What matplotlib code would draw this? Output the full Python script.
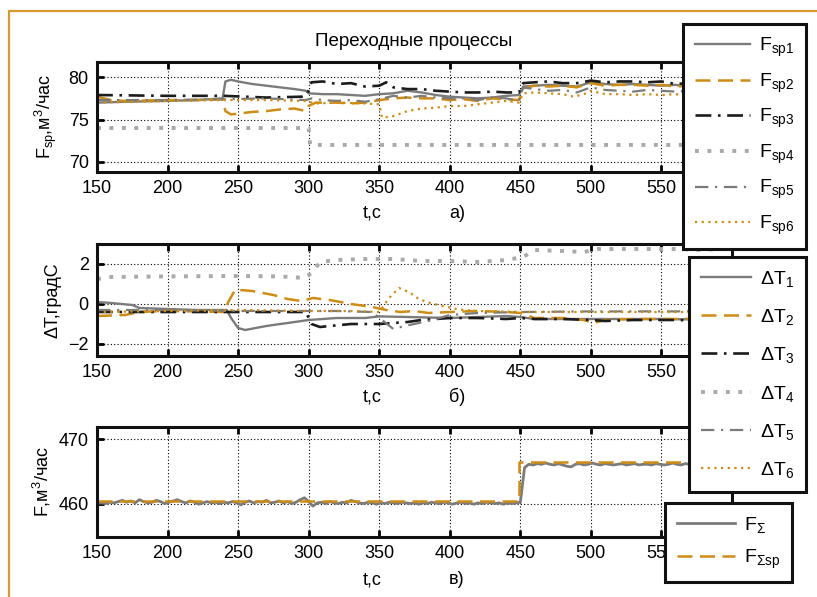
import numpy as np
import matplotlib

matplotlib.use("Agg")
import matplotlib.pyplot as plt
from matplotlib.patches import Rectangle

# --- Data: setpoints of the six flows, m3/h ---
T_SP1 = [150, 170, 200, 220, 239, 241, 245, 250, 260, 270, 280, 290, 298, 300, 310, 320, 330, 340,
         350, 360, 370, 380, 390, 400, 410, 420, 430, 440, 449, 452, 460, 470, 480, 490, 500, 510,
         520, 530, 540, 550, 560, 570, 580, 590, 600]
F_SP1 = [77.0, 77.1, 77.2, 77.3, 77.5, 79.5, 79.7, 79.5, 79.2, 79.0, 78.8, 78.6, 78.4, 78.1, 78.0,
         78.0, 77.9, 77.8, 78.0, 78.1, 78.4, 78.2, 77.9, 77.7, 77.6, 77.5, 77.6, 77.8, 77.9, 78.9,
         79.0, 79.1, 79.0, 78.9, 79.4, 79.2, 79.1, 79.2, 79.1, 79.0, 79.1, 78.8, 78.9, 78.7, 79.0]

T_SP2 = [150, 160, 170, 200, 220, 239, 241, 245, 250, 260, 270, 280, 290, 298, 300, 305, 320, 330,
         340, 350, 360, 370, 380, 390, 400, 410, 420, 430, 440, 449, 452, 460, 470, 480, 490, 500,
         510, 520, 530, 540, 550, 560, 570, 580, 590, 600]
F_SP2 = [77.7, 77.3, 77.2, 77.3, 77.3, 77.4, 76.0, 75.6, 75.7, 75.9, 76.0, 76.2, 76.3, 76.0, 76.6,
         77.0, 77.0, 76.9, 77.0, 77.3, 77.5, 77.6, 77.5, 77.5, 77.3, 77.4, 77.2, 77.5, 77.4, 77.3,
         78.7, 79.0, 78.9, 79.0, 78.8, 79.3, 79.0, 79.1, 79.1, 79.0, 79.1, 78.9, 79.0, 78.9, 78.6, 78.9]

T_SP3 = [150, 200, 240, 270, 295, 299, 302, 310, 320, 330, 340, 350, 355, 360, 370, 380, 390, 400,
         410, 420, 430, 440, 449, 452, 460, 470, 480, 490, 500, 510, 520, 530, 540, 550, 560, 570,
         580, 590, 600]
F_SP3 = [77.9, 77.8, 77.8, 77.6, 77.7, 78.0, 79.4, 79.5, 79.2, 79.3, 78.9, 79.0, 79.4, 78.8, 78.6,
         78.6, 78.4, 78.3, 78.2, 78.2, 78.3, 78.2, 78.2, 79.3, 79.4, 79.5, 79.3, 79.3, 79.6, 79.4,
         79.5, 79.5, 79.4, 79.5, 79.2, 79.3, 79.2, 79.1, 79.2]

T_SP4 = [150, 300, 301, 600]
F_SP4 = [74.0, 74.0, 72.0, 72.0]

T_SP5 = [150, 200, 240, 270, 298, 302, 310, 320, 330, 340, 350, 360, 370, 380, 390, 400, 410, 420,
         430, 440, 449, 452, 460, 470, 480, 490, 500, 510, 520, 530, 540, 550, 560, 570, 580, 590, 600]
F_SP5 = [77.3, 77.3, 77.4, 77.5, 77.3, 77.5, 77.3, 77.2, 77.3, 77.1, 77.4, 77.8, 77.6, 77.8, 77.6,
         77.5, 77.5, 77.3, 77.6, 77.5, 77.2, 78.8, 78.6, 78.4, 78.5, 78.2, 78.8, 78.5, 78.4, 78.3,
         78.5, 78.4, 78.3, 78.4, 78.3, 78.0, 78.2]

T_SP6 = [150, 200, 240, 270, 298, 305, 320, 340, 350, 352, 360, 370, 380, 390, 400, 410, 420, 430,
         440, 449, 452, 460, 470, 480, 488, 495, 500, 510, 520, 530, 540, 550, 560, 570, 580, 590, 600]
F_SP6 = [77.0, 77.2, 77.3, 77.3, 77.2, 76.9, 77.0, 76.9, 76.8, 75.2, 75.4, 76.0, 76.3, 76.4, 76.6,
         76.6, 76.8, 77.0, 77.2, 77.0, 78.1, 78.2, 78.1, 78.0, 77.7, 78.0, 78.4, 78.0, 78.0, 77.9,
         78.0, 77.9, 78.0, 77.8, 77.7, 77.6, 77.9]

# --- Data: temperature deviations, degC ---
T_DT1 = [150, 160, 175, 180, 200, 220, 242, 245, 250, 255, 270, 285, 300, 320, 340, 350, 370, 400,
         420, 440, 450, 460, 500, 550, 600]
DT1 = [0.1, 0.05, -0.05, -0.2, -0.25, -0.3, -0.3, -0.7, -1.2, -1.3, -1.1, -0.95, -0.8, -0.7, -0.7,
       -0.62, -0.65, -0.7, -0.65, -0.6, -0.65, -0.75, -0.75, -0.75, -0.8]

T_DT2 = [150, 170, 180, 200, 240, 243, 248, 260, 275, 285, 295, 303, 315, 330, 345, 355, 365, 375,
         385, 400, 420, 440, 450, 460, 480, 495, 502, 510, 530, 560, 600]
DT2 = [-0.6, -0.55, -0.4, -0.35, -0.4, 0.1, 0.72, 0.65, 0.45, 0.25, 0.15, 0.3, 0.2, 0.0, -0.15,
       -0.3, -0.4, -0.35, -0.45, -0.4, -0.35, -0.4, -0.45, -0.7, -0.7, -0.8, -0.95, -0.8, -0.75,
       -0.75, -0.7]

T_DT3 = [150, 200, 250, 298, 302, 308, 315, 330, 350, 360, 370, 380, 390, 400, 420, 440, 450, 460,
         480, 500, 510, 530, 560, 600]
DT3 = [-0.4, -0.4, -0.4, -0.4, -1.0, -1.15, -1.1, -1.0, -1.0, -0.95, -0.9, -0.8, -0.75, -0.7, -0.7,
       -0.75, -0.7, -0.75, -0.75, -0.8, -0.85, -0.8, -0.8, -0.85]

T_DT4 = [150, 160, 200, 250, 280, 297, 303, 308, 320, 340, 360, 380, 400, 420, 440, 452, 460, 480,
         495, 505, 530, 560, 580, 600]
DT4 = [1.25, 1.35, 1.38, 1.4, 1.38, 1.3, 1.6, 2.1, 2.2, 2.25, 2.25, 2.15, 2.15, 2.1, 2.2, 2.35, 2.7,
       2.65, 2.6, 2.75, 2.75, 2.75, 2.7, 2.8]

T_DT5 = [150, 200, 250, 300, 320, 345, 352, 360, 368, 378, 388, 400, 420, 450, 500, 600]
DT5 = [-0.3, -0.3, -0.35, -0.35, -0.35, -0.4, -0.8, -1.25, -1.1, -0.95, -0.8, -0.55, -0.45, -0.4,
       -0.37, -0.37]

T_DT6 = [150, 200, 250, 300, 330, 350, 357, 364, 371, 378, 386, 395, 407, 420, 450, 600]
DT6 = [-0.4, -0.35, -0.3, -0.35, -0.35, -0.4, 0.3, 0.8, 0.6, 0.25, 0.05, -0.1, -0.28, -0.35, -0.4,
       -0.4]

# --- Data: total flow and its setpoint, m3/h ---
T_SUM = np.arange(150, 601, 3)
F_SUM = [
    460.0, 460.1, 460.0, 460.2, 460.1, 460.3, 460.5, 460.2, 460.4, 460.1,
    460.6, 460.3, 460.1, 460.2, 460.5, 460.3, 460.0, 460.2, 460.4, 460.6,
    460.3, 460.1, 460.4, 460.2, 459.9, 460.1, 460.3, 460.1, 460.2, 460.0,
    460.2, 460.1, 460.3, 460.1, 459.8, 460.2, 460.4, 460.1, 460.3, 460.2,
    460.5, 460.1, 460.2, 460.4, 460.1, 460.3, 460.0, 460.2, 460.6, 460.9,
    460.3, 459.6, 460.1, 460.2, 460.0, 460.3, 460.1, 460.0, 460.2, 460.1,
    460.5, 460.3, 460.1, 460.0, 460.2, 460.1, 459.9, 460.1, 460.0, 460.2,
    460.1, 460.0, 460.2, 460.1, 460.0, 460.1, 459.9, 460.1, 460.0, 460.2,
    460.1, 460.0, 460.2, 460.1, 459.9, 460.1, 460.2, 460.0, 460.1, 459.9,
    460.1, 460.0, 460.2, 460.1, 460.0, 460.1, 459.9, 460.1, 460.0, 460.1,
    460.2, 465.6, 466.1, 466.0, 466.2, 466.1, 466.3, 466.1, 466.0, 466.2,
    466.0, 465.8, 465.7, 466.1, 466.2, 466.0, 466.1, 466.3, 466.1, 466.0,
    466.2, 466.1, 466.0, 466.1, 466.2, 466.0, 466.1, 466.2, 466.0, 466.1,
    466.1, 466.0, 466.2, 466.1, 466.0, 466.1, 466.3, 466.1, 466.0, 466.2,
    466.1, 466.0, 466.2, 466.1, 466.0, 466.1, 466.2, 466.0, 466.1, 466.2, 466.1,
]
T_SUM_SP = [150, 449, 449, 600]
F_SUM_SP = [460.4, 460.4, 466.4, 466.4]

XTICKS = [150, 200, 250, 300, 350, 400, 450, 500, 550, 600]
SP_LABELS = ["F$_{sp1}$", "F$_{sp2}$", "F$_{sp3}$", "F$_{sp4}$", "F$_{sp5}$", "F$_{sp6}$"]
DT_LABELS = ["ΔT$_1$", "ΔT$_2$", "ΔT$_3$", "ΔT$_4$", "ΔT$_5$", "ΔT$_6$"]
SUM_LABELS = ["F$_{Σ}$", "F$_{Σsp}$"]

W, H = 817, 597
GRAY = "#7b7b7b"
ORANGE = "#d08c12"
BLACK = "#1c1c1c"
LGRAY = "#a9a9a9"
BORDER = "#d9992c"

STYLES = [
    dict(color=GRAY, ls="-", lw=1.7),
    dict(color=ORANGE, ls=(0, (6, 3)), lw=1.8),
    dict(color=BLACK, ls=(0, (6, 2.5, 1, 2.5)), lw=1.9),
    dict(color=LGRAY, ls=(0, (1, 2.2)), lw=2.8),
    dict(color=GRAY, ls=(0, (6, 3, 1, 3)), lw=1.6),
    dict(color=ORANGE, ls=(0, (1, 2)), lw=1.6),
]

plt.rcParams["font.family"] = ["Liberation Sans", "DejaVu Sans"]
plt.rcParams["mathtext.default"] = "regular"

fig = plt.figure(figsize=(W / 100, H / 100), dpi=100)


def px_axes(left, top, right, bottom):
    return fig.add_axes([left / W, 1 - bottom / H, (right - left) / W, (bottom - top) / H])


def px_text(x, y, s, **kw):
    fig.text(x / W, 1 - y / H, s, ha="center", va="center", **kw)


def style_axes(ax, yticks, ylim):
    ax.set_xlim(150, 600)
    ax.set_xticks(XTICKS)
    ax.set_ylim(*ylim)
    ax.set_yticks(yticks)
    ax.grid(True, color="black", ls=(0, (1, 2)), lw=0.8)
    ax.tick_params(direction="in", top=True, right=True, length=5, width=2,
                   labelsize=13, pad=6)
    for s in ax.spines.values():
        s.set_linewidth(2.2)
        s.set_color("#111111")


def px_legend(handles, labels, x, y, **kw):
    fig.legend(handles, labels, loc="upper left", bbox_to_anchor=(x / W, 1 - y / H),
               borderaxespad=0, fancybox=False, framealpha=1, edgecolor="#111111",
               fontsize=14, handletextpad=0.45, borderpad=0.6, **kw)


# --- a) setpoints ---
ax1 = px_axes(97, 62, 732, 172)
sp_lines = []
for t, v, st in zip([T_SP1, T_SP2, T_SP3, T_SP4, T_SP5, T_SP6],
                    [F_SP1, F_SP2, F_SP3, F_SP4, F_SP5, F_SP6], STYLES):
    sp_lines += ax1.plot(t, v, **st)
style_axes(ax1, [70, 75, 80], (68.8, 81.8))

# --- b) temperature deviations ---
ax2 = px_axes(97, 244, 732, 356)
dt_lines = []
for t, v, st in zip([T_DT1, T_DT2, T_DT3, T_DT4, T_DT5, T_DT6],
                    [DT1, DT2, DT3, DT4, DT5, DT6], STYLES):
    dt_lines += ax2.plot(t, v, **st)
style_axes(ax2, [-2, 0, 2], (-2.6, 3.0))

# --- c) total flow ---
ax3 = px_axes(97, 427, 732, 537)
sum_lines = ax3.plot(T_SUM, F_SUM, color=GRAY, lw=2.0)
sum_lines += ax3.plot(T_SUM_SP, F_SUM_SP, color=ORANGE, ls=(0, (6, 3)), lw=1.8)
style_axes(ax3, [460, 470], (454.8, 471.9))

px_text(414, 42, "Переходные процессы", fontsize=13.5)
px_text(46, 117, "F$_{sp}$,м$^{3}$/час", fontsize=13, rotation=90)
px_text(53, 300, "ΔT,градС", fontsize=13, rotation=90)
px_text(42, 482, "F,м$^{3}$/час", fontsize=13, rotation=90)
for y, tag in [(213, "а)"), (397, "б)"), (580, "в)")]:
    px_text(372, y, "t,с", fontsize=13)
    px_text(457, y, tag, fontsize=13)

px_legend(sp_lines, SP_LABELS, 683, 24, labelspacing=0.64, handlelength=2.85)
px_legend(dt_lines, DT_LABELS, 689, 257, labelspacing=0.94, handlelength=2.6)
px_legend(sum_lines, SUM_LABELS, 665, 503, labelspacing=0.65, handlelength=3.0)
for leg in fig.legends:
    leg.get_frame().set_linewidth(2.2)

fig.add_artist(Rectangle((9 / W, -0.2), 1.2, 1.2 - 11 / H, transform=fig.transFigure,
                         fill=False, edgecolor=BORDER, lw=1.6))

fig.savefig("out.png", dpi=100)
